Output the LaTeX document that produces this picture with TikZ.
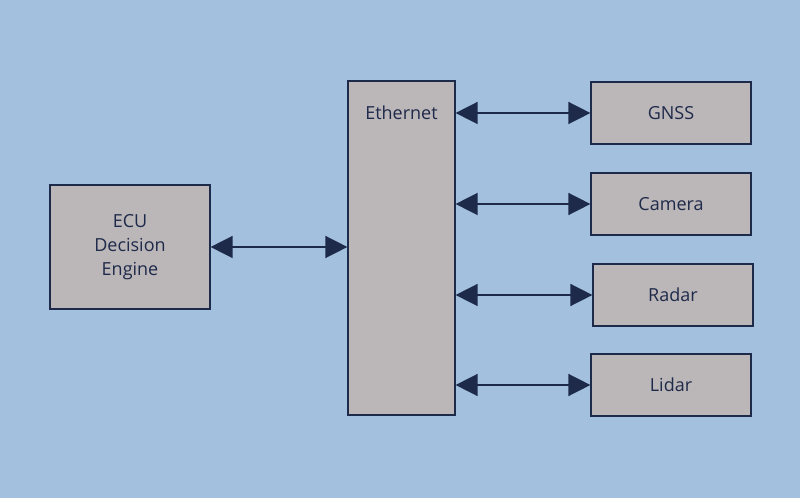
\documentclass[tikz,border=0pt]{standalone}
\usepackage{fontspec}
\setmainfont{Open Sans}
\usetikzlibrary{arrows.meta}
\definecolor{bg}{HTML}{A3C1DE}
\definecolor{boxc}{HTML}{BBB6B8}
\definecolor{navy}{HTML}{1E2A4A}
\begin{document}
\begin{tikzpicture}[x=1pt,y=1pt,
  box/.style={draw=navy,line width=1.2pt,fill=boxc,text=navy,font=\fontsize{18}{24}\selectfont,align=center,inner sep=0pt},
  link/.style={navy,line width=1.5pt,{Triangle[length=22pt,width=22pt]}-{Triangle[length=22pt,width=22pt]}}]
\fill[bg] (0,0) rectangle (800,498);
\useasboundingbox (0,0) rectangle (800,498);
\node[box,minimum width=160pt,minimum height=124pt] (ecu) at (130,251) {ECU\\Decision\\Engine};
\node[box,minimum width=107pt,minimum height=334pt] (eth) at (401.5,250) {};
\node[text=navy,font=\fontsize{18}{24}\selectfont] (ethl) at (401.5,385) {Ethernet};
\node[box,minimum width=160pt,minimum height=62pt] (gnss) at (671,385) {GNSS};
\node[box,minimum width=160pt,minimum height=62pt] (cam) at (671,294) {Camera};
\node[box,minimum width=160pt,minimum height=62pt] (radar) at (673,203) {Radar};
\node[box,minimum width=160pt,minimum height=62pt] (lidar) at (671,113) {Lidar};
\draw[link] (ecu.east) -- (eth.west |- ecu.east);
\draw[link] (eth.east |- gnss.west) -- (gnss.west);
\draw[link] (eth.east |- cam.west) -- (cam.west);
\draw[link] (eth.east |- radar.west) -- (radar.west);
\draw[link] (eth.east |- lidar.west) -- (lidar.west);
\end{tikzpicture}
\end{document}
